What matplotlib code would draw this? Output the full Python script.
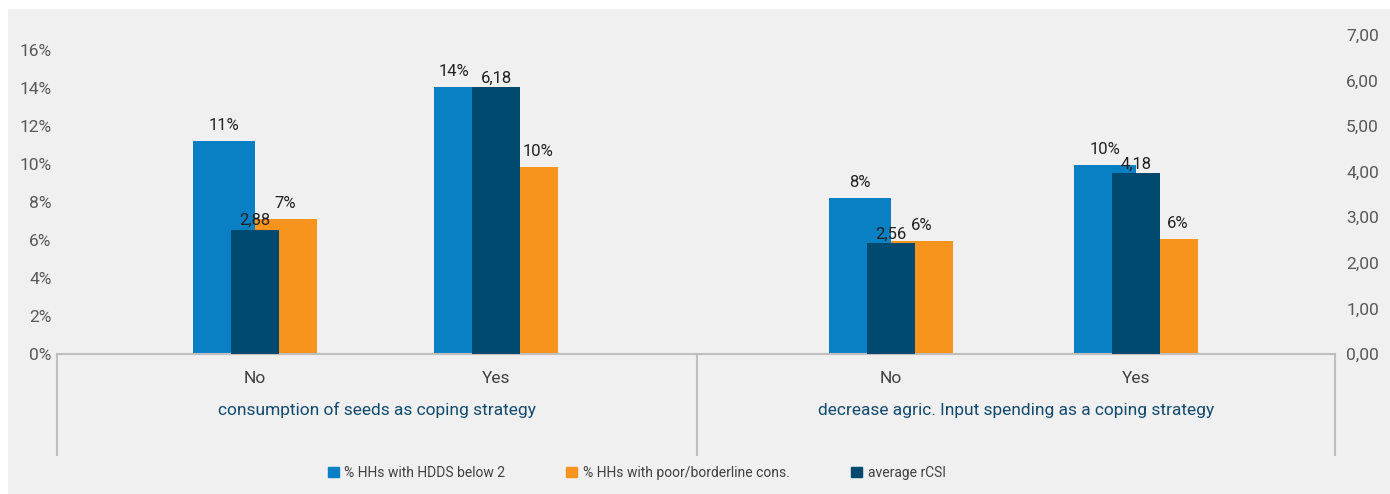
import matplotlib
matplotlib.use("Agg")
import matplotlib.pyplot as plt
from matplotlib.patches import Rectangle

plt.rcParams['font.family'] = ['Roboto', 'DejaVu Sans']

# data
categories = ['No', 'Yes', 'No', 'Yes']
groups = ['consumption of seeds as coping strategy',
          'decrease agric. Input spending as a coping strategy']
hdds_below2 = [0.112, 0.1405, 0.082, 0.0995]   # % HHs with HDDS below 2
poor_cons = [0.071, 0.0985, 0.0595, 0.0605]     # % HHs with poor/borderline cons.
rcsi = [2.88, 6.18, 2.56, 4.18]                 # average rCSI
left_ticks = [0, 0.02, 0.04, 0.06, 0.08, 0.10, 0.12, 0.14, 0.16]
right_ticks = [0, 1, 2, 3, 4, 5, 6, 7]

BLUE = '#0a80c4'
ORANGE = '#f7941d'
DARK = '#004a6f'

# layout (pixel-like units along the category axis)
xpos = [197.5, 439, 834, 1079]
group_edges = [0, 640, 1278]
w = 62
wd = 48
# label nudges (points) so the labels clear the dark bars, as in the reference
blue_dx = [0, -8, 0, 0]
orange_dx = [0, 8, 0, 8]

fig = plt.figure(figsize=(13.9, 4.94), dpi=100)
fig.patches.append(Rectangle((8 / 1390, 0), 1, 1 - 9 / 494, transform=fig.transFigure,
                             facecolor='#f0f0f0', edgecolor='none', zorder=-10))

ax = fig.add_axes([57 / 1390, 1 - 354 / 494, (1335 - 57) / 1390, 319 / 494])
ax.set_facecolor('none')
ax2 = ax.twinx()
ax3 = ax.twinx()

ax.bar([x - w / 2 for x in xpos], hdds_below2, width=w, color=BLUE, zorder=2)
ax.bar([x + w / 2 for x in xpos], poor_cons, width=w, color=ORANGE, zorder=2)
ax3.bar(xpos, rcsi, width=wd, color=DARK, zorder=3)

ax.set_xlim(0, 1278)
ax.set_ylim(0, 0.16 * 319 / 304)
ax2.set_ylim(0, 7)
ax3.set_ylim(0, 319 / 43.2)

for a in (ax, ax2, ax3):
    for s in a.spines.values():
        s.set_visible(False)
ax.spines['bottom'].set_visible(True)
ax.spines['bottom'].set_color('#bfbfbf')
ax.spines['bottom'].set_linewidth(1.5)

ax.set_yticks(left_ticks)
ax.set_yticklabels([f'{int(round(t * 100))}%' for t in left_ticks])
ax.tick_params(axis='y', length=0, pad=4, labelsize=12.5, labelcolor='#595959')
ax2.set_yticks(right_ticks)
ax2.set_yticklabels([f'{t:.2f}'.replace('.', ',') for t in right_ticks])
ax2.tick_params(axis='y', length=0, pad=8, labelsize=12.5, labelcolor='#595959')
ax3.set_yticks([])

ax.set_xticks(xpos)
ax.set_xticklabels(categories)
ax.tick_params(axis='x', length=0, pad=12, labelsize=12.5, labelcolor='#404040')

# group labels and separators
tr = ax.get_xaxis_transform()
for i, g in enumerate(groups):
    ax.text((group_edges[i] + group_edges[i + 1]) / 2, -56 / 319, g, transform=tr,
            ha='center', va='center', fontsize=12.5, color='#124b6e')
for e in group_edges:
    ax.plot([e, e], [0, -101 / 319], transform=tr, color='#bfbfbf', lw=1.5, clip_on=False)

# data labels (all drawn on the top-most axes so the dark bars do not hide them)
for x, v, dx in zip(xpos, hdds_below2, blue_dx):
    ax3.annotate(f'{v * 100:.0f}%', (x - w / 2, v), xycoords=ax.transData, xytext=(dx, 6),
                 textcoords='offset points', ha='center', va='bottom', fontsize=12,
                 color='#222222', zorder=5)
for x, v, dx in zip(xpos, poor_cons, orange_dx):
    ax3.annotate(f'{v * 100:.0f}%', (x + w / 2, v), xycoords=ax.transData, xytext=(dx, 6),
                 textcoords='offset points', ha='center', va='bottom', fontsize=12,
                 color='#222222', zorder=5)
for x, v in zip(xpos, rcsi):
    ax3.annotate(f'{v:.2f}'.replace('.', ','), (x, v), xytext=(0, 1), textcoords='offset points',
                 ha='center', va='bottom', fontsize=12, color='#222222', zorder=5)

handles = [Rectangle((0, 0), 1, 1, color=c) for c in (BLUE, ORANGE, DARK)]
fig.legend(handles, ['% HHs with HDDS below 2', '% HHs with poor/borderline cons.', 'average rCSI'],
           loc='center left', bbox_to_anchor=(315 / 1390, 1 - 473 / 494), ncol=3, frameon=False,
           fontsize=10, labelcolor='#404040', handlelength=0.8, handleheight=0.8,
           handletextpad=0.4, columnspacing=4.4)

fig.savefig('out.png', dpi=100, facecolor='white')
